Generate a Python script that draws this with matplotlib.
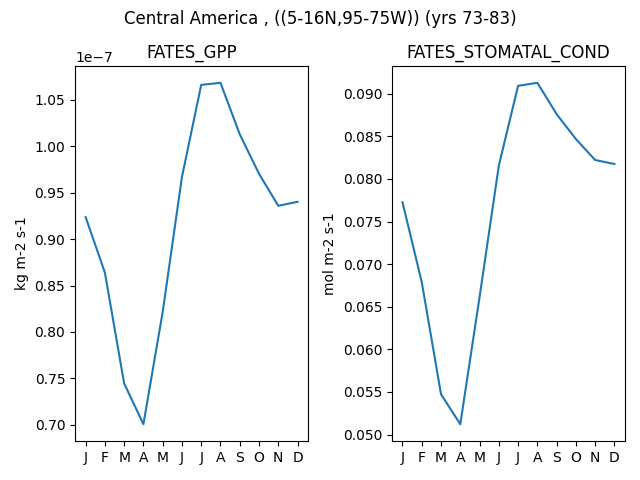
import matplotlib
matplotlib.use("Agg")
import matplotlib.pyplot as plt

months = ["J", "F", "M", "A", "M", "J", "J", "A", "S", "O", "N", "D"]
gpp = [0.9237e-7, 0.864e-7, 0.7446e-7, 0.7007e-7, 0.8215e-7, 0.9669e-7,
       1.0661e-7, 1.0683e-7, 1.0129e-7, 0.9704e-7, 0.9359e-7, 0.9402e-7]
stomatal = [0.07727, 0.06789, 0.05473, 0.05121, 0.06613, 0.08156,
            0.09094, 0.09129, 0.08762, 0.08469, 0.08223, 0.08176]

fig, (ax1, ax2) = plt.subplots(1, 2, figsize=(6.4, 4.8))
fig.suptitle("Central America , ((5-16N,95-75W)) (yrs 73-83)")

x = range(len(months))
ax1.plot(x, gpp)
ax1.set_title("FATES_GPP")
ax1.set_ylabel("kg m-2 s-1")
ax1.set_xticks(x)
ax1.set_xticklabels(months)

ax2.plot(x, stomatal)
ax2.set_title("FATES_STOMATAL_COND")
ax2.set_ylabel("mol m-2 s-1")
ax2.set_xticks(x)
ax2.set_xticklabels(months)

plt.tight_layout()
fig.subplots_adjust(top=0.863)
plt.savefig("out.png", dpi=100)
